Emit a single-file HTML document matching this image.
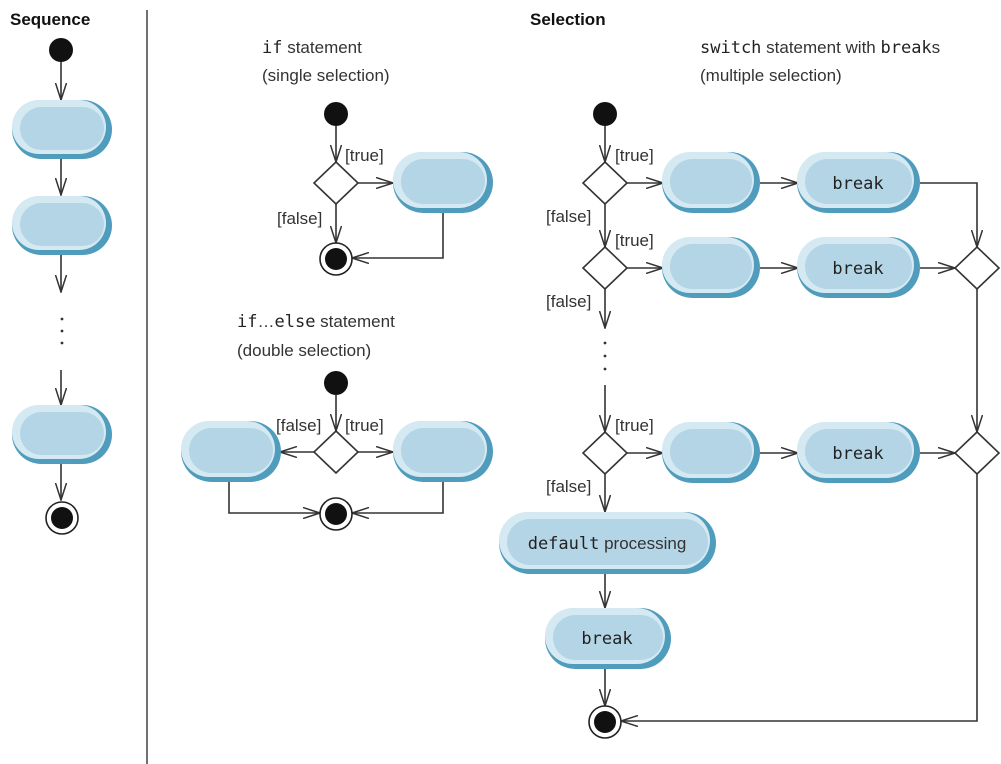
<!DOCTYPE html>
<html><head><meta charset="utf-8"><style>
html,body{margin:0;padding:0;background:#fff;}
svg{display:block;font-family:"Liberation Sans",sans-serif;}
.t{font-size:17px;fill:#333;}
.m{font-family:"DejaVu Sans Mono","Liberation Mono",monospace;font-size:17px;fill:#222;}
.h{font-size:17px;font-weight:bold;fill:#111;}
.l{stroke:#333;stroke-width:1.6;fill:none;}
</style></head><body>
<svg width="1001" height="764" viewBox="0 0 1001 764">
<defs>
<marker id="a" markerWidth="18" markerHeight="12" refX="17" refY="6" orient="auto" markerUnits="userSpaceOnUse">
<polyline points="0,0.5 17,6 0,11.5" fill="none" stroke="#333" stroke-width="1.5"/>
</marker>
<symbol id="fin" overflow="visible"><circle cx="0" cy="0" r="16" fill="#fff" stroke="#222" stroke-width="1.6"/><circle cx="0" cy="0" r="11" fill="#111"/></symbol>
</defs>

<text x="10" y="25" class="h">Sequence</text>
<text x="530" y="25" class="h">Selection</text>
<line x1="147" y1="10" x2="147" y2="764" stroke="#333" stroke-width="1.4"/>

<!-- Sequence -->
<circle cx="61" cy="50" r="12" fill="#111"/>
<line class="l" x1="61" y1="62" x2="61" y2="100" marker-end="url(#a)"/>
<line class="l" x1="61" y1="158" x2="61" y2="195" marker-end="url(#a)"/>
<line class="l" x1="61" y1="255" x2="61" y2="292" marker-end="url(#a)"/>
<circle cx="62" cy="319" r="1.4" fill="#333"/><circle cx="62" cy="331" r="1.4" fill="#333"/><circle cx="62" cy="343" r="1.4" fill="#333"/>
<line class="l" x1="61" y1="370" x2="61" y2="405" marker-end="url(#a)"/>
<line class="l" x1="61" y1="463" x2="61" y2="500" marker-end="url(#a)"/>
<use href="#fin" x="62" y="518"/>

<!-- if -->
<text x="262" y="53" class="t"><tspan class="m">if</tspan> statement</text>
<text x="262" y="81" class="t">(single selection)</text>
<circle cx="336" cy="114" r="12" fill="#111"/>
<line class="l" x1="336" y1="126" x2="336" y2="162" marker-end="url(#a)"/>
<polygon points="336,162 358,183 336,204 314,183" fill="#fff" stroke="#333" stroke-width="1.6"/>
<line class="l" x1="358" y1="183" x2="393" y2="183" marker-end="url(#a)"/>
<line class="l" x1="336" y1="204" x2="336" y2="243" marker-end="url(#a)"/>
<polyline class="l" points="443,213 443,258 352,258" marker-end="url(#a)"/>
<use href="#fin" x="336" y="259"/>
<text x="345" y="161" class="t">[true]</text>
<text x="277" y="224" class="t">[false]</text>

<!-- if else -->
<text x="237" y="327" class="t"><tspan class="m">if</tspan>…<tspan class="m">else</tspan> statement</text>
<text x="237" y="356" class="t">(double selection)</text>
<circle cx="336" cy="383" r="12" fill="#111"/>
<line class="l" x1="336" y1="395" x2="336" y2="431" marker-end="url(#a)"/>
<polygon points="336,431 358,452 336,473 314,452" fill="#fff" stroke="#333" stroke-width="1.6"/>
<line class="l" x1="358" y1="452" x2="393" y2="452" marker-end="url(#a)"/>
<line class="l" x1="314" y1="452" x2="280" y2="452" marker-end="url(#a)"/>
<polyline class="l" points="229,482 229,513 320,513" marker-end="url(#a)"/>
<polyline class="l" points="443,482 443,513 352,513" marker-end="url(#a)"/>
<use href="#fin" x="336" y="514"/>
<text x="345" y="431" class="t">[true]</text>
<text x="276" y="431" class="t">[false]</text>

<!-- switch -->
<text x="700" y="53" class="t"><tspan class="m">switch</tspan> statement with <tspan class="m">break</tspan>s</text>
<text x="700" y="81" class="t">(multiple selection)</text>
<circle cx="605" cy="114" r="12" fill="#111"/>
<line class="l" x1="605" y1="126" x2="605" y2="162" marker-end="url(#a)"/>
<polygon points="605,162 627,183 605,204 583,183" fill="#fff" stroke="#333" stroke-width="1.6"/>
<line class="l" x1="605" y1="204" x2="605" y2="247" marker-end="url(#a)"/>
<polygon points="605,247 627,268 605,289 583,268" fill="#fff" stroke="#333" stroke-width="1.6"/>
<line class="l" x1="605" y1="289" x2="605" y2="328" marker-end="url(#a)"/>
<circle cx="605" cy="343" r="1.4" fill="#333"/><circle cx="605" cy="356" r="1.4" fill="#333"/><circle cx="605" cy="369" r="1.4" fill="#333"/>
<line class="l" x1="605" y1="385" x2="605" y2="432" marker-end="url(#a)"/>
<polygon points="605,432 627,453 605,474 583,453" fill="#fff" stroke="#333" stroke-width="1.6"/>
<line class="l" x1="605" y1="474" x2="605" y2="512" marker-end="url(#a)"/>
<line class="l" x1="605" y1="573" x2="605" y2="608" marker-end="url(#a)"/>
<line class="l" x1="605" y1="668" x2="605" y2="706" marker-end="url(#a)"/>
<use href="#fin" x="605" y="722"/>
<text x="615" y="161" class="t">[true]</text>
<text x="615" y="246" class="t">[true]</text>
<text x="615" y="431" class="t">[true]</text>
<text x="546" y="222" class="t">[false]</text>
<text x="546" y="307" class="t">[false]</text>
<text x="546" y="492" class="t">[false]</text>

<line class="l" x1="627" y1="183" x2="663" y2="183" marker-end="url(#a)"/>
<line class="l" x1="627" y1="268" x2="663" y2="268" marker-end="url(#a)"/>
<line class="l" x1="627" y1="453" x2="663" y2="453" marker-end="url(#a)"/>
<line class="l" x1="760" y1="183" x2="798" y2="183" marker-end="url(#a)"/>
<line class="l" x1="760" y1="268" x2="798" y2="268" marker-end="url(#a)"/>
<line class="l" x1="760" y1="453" x2="798" y2="453" marker-end="url(#a)"/>
<polyline class="l" points="920,183 977,183 977,247" marker-end="url(#a)"/>
<line class="l" x1="920" y1="268" x2="955" y2="268" marker-end="url(#a)"/>
<line class="l" x1="920" y1="453" x2="955" y2="453" marker-end="url(#a)"/>
<polygon points="977,247 999,268 977,289 955,268" fill="#fff" stroke="#333" stroke-width="1.6"/>
<line class="l" x1="977" y1="289" x2="977" y2="432" marker-end="url(#a)"/>
<polygon points="977,432 999,453 977,474 955,453" fill="#fff" stroke="#333" stroke-width="1.6"/>
<polyline class="l" points="977,474 977,721 621,721" marker-end="url(#a)"/>

<g>
<g transform="translate(12,100)"><rect width="100" height="59" rx="29.5" fill="#4f9cbd"/><rect width="94" height="54" rx="27" fill="#d5e9f2"/><rect x="8" y="7" width="84" height="43" rx="21.5" fill="#b4d5e6"/></g>
<g transform="translate(12,196)"><rect width="100" height="59" rx="29.5" fill="#4f9cbd"/><rect width="94" height="54" rx="27" fill="#d5e9f2"/><rect x="8" y="7" width="84" height="43" rx="21.5" fill="#b4d5e6"/></g>
<g transform="translate(12,405)"><rect width="100" height="59" rx="29.5" fill="#4f9cbd"/><rect width="94" height="54" rx="27" fill="#d5e9f2"/><rect x="8" y="7" width="84" height="43" rx="21.5" fill="#b4d5e6"/></g>
<g transform="translate(393,152)"><rect width="100" height="61" rx="30.5" fill="#4f9cbd"/><rect width="94" height="56" rx="28" fill="#d5e9f2"/><rect x="8" y="7" width="84" height="45" rx="22.5" fill="#b4d5e6"/></g>
<g transform="translate(181,421)"><rect width="100" height="61" rx="30.5" fill="#4f9cbd"/><rect width="94" height="56" rx="28" fill="#d5e9f2"/><rect x="8" y="7" width="84" height="45" rx="22.5" fill="#b4d5e6"/></g>
<g transform="translate(393,421)"><rect width="100" height="61" rx="30.5" fill="#4f9cbd"/><rect width="94" height="56" rx="28" fill="#d5e9f2"/><rect x="8" y="7" width="84" height="45" rx="22.5" fill="#b4d5e6"/></g>
<g transform="translate(662,152)"><rect width="98" height="61" rx="30.5" fill="#4f9cbd"/><rect width="92" height="56" rx="28" fill="#d5e9f2"/><rect x="8" y="7" width="82" height="45" rx="22.5" fill="#b4d5e6"/></g>
<g transform="translate(662,237)"><rect width="98" height="61" rx="30.5" fill="#4f9cbd"/><rect width="92" height="56" rx="28" fill="#d5e9f2"/><rect x="8" y="7" width="82" height="45" rx="22.5" fill="#b4d5e6"/></g>
<g transform="translate(662,422)"><rect width="98" height="61" rx="30.5" fill="#4f9cbd"/><rect width="92" height="56" rx="28" fill="#d5e9f2"/><rect x="8" y="7" width="82" height="45" rx="22.5" fill="#b4d5e6"/></g>
<g transform="translate(797,152)"><rect width="123" height="61" rx="30.5" fill="#4f9cbd"/><rect width="117" height="56" rx="28" fill="#d5e9f2"/><rect x="8" y="7" width="107" height="45" rx="22.5" fill="#b4d5e6"/></g>
<g transform="translate(797,237)"><rect width="123" height="61" rx="30.5" fill="#4f9cbd"/><rect width="117" height="56" rx="28" fill="#d5e9f2"/><rect x="8" y="7" width="107" height="45" rx="22.5" fill="#b4d5e6"/></g>
<g transform="translate(797,422)"><rect width="123" height="61" rx="30.5" fill="#4f9cbd"/><rect width="117" height="56" rx="28" fill="#d5e9f2"/><rect x="8" y="7" width="107" height="45" rx="22.5" fill="#b4d5e6"/></g>
<g transform="translate(499,512)"><rect width="217" height="62" rx="31" fill="#4f9cbd"/><rect width="211" height="57" rx="28.5" fill="#d5e9f2"/><rect x="8" y="7" width="201" height="46" rx="23" fill="#b4d5e6"/></g>
<g transform="translate(545,608)"><rect width="126" height="61" rx="30.5" fill="#4f9cbd"/><rect width="120" height="56" rx="28" fill="#d5e9f2"/><rect x="8" y="7" width="110" height="45" rx="22.5" fill="#b4d5e6"/></g>
</g>
<text x="858" y="189" class="m" text-anchor="middle">break</text>
<text x="858" y="274" class="m" text-anchor="middle">break</text>
<text x="858" y="459" class="m" text-anchor="middle">break</text>
<text x="607" y="644" class="m" text-anchor="middle">break</text>
<text x="607" y="549" class="t" text-anchor="middle"><tspan class="m">default</tspan> processing</text>
</svg>
</body></html>
